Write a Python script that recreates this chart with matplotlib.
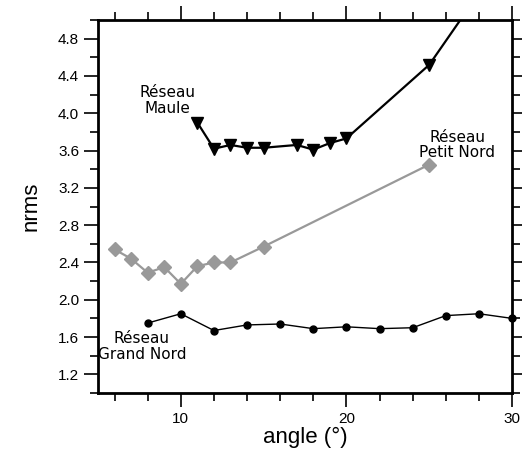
import matplotlib
matplotlib.use('Agg')
import matplotlib.pyplot as plt
from matplotlib.ticker import MultipleLocator, FixedLocator, FormatStrFormatter

# Réseau Maule
maule_x = [11, 12, 13, 14, 15, 17, 18, 19, 20, 25, 30]
maule_y = [3.90, 3.62, 3.66, 3.63, 3.63, 3.66, 3.61, 3.68, 3.73, 4.52, 5.80]

# Réseau Petit Nord
petit_x = [6, 7, 8, 9, 10, 11, 12, 13, 15, 25]
petit_y = [2.54, 2.44, 2.29, 2.35, 2.17, 2.36, 2.40, 2.40, 2.57, 3.45]

# Réseau Grand Nord
grand_x = [8, 10, 12, 14, 16, 18, 20, 22, 24, 26, 28, 30]
grand_y = [1.75, 1.85, 1.67, 1.73, 1.74, 1.69, 1.71, 1.69, 1.70, 1.83, 1.85, 1.80]

y_ticks = [1.2, 1.6, 2.0, 2.4, 2.8, 3.2, 3.6, 4.0, 4.4, 4.8]
x_ticks = [10, 20, 30]

fig = plt.figure(figsize=(5.22, 4.61), dpi=100)
ax = fig.add_axes([0.1877, 0.1475, 0.7933, 0.8091])

ax.plot(maule_x, maule_y, color='black', lw=1.6, marker='v', ms=8)
ax.plot(petit_x, petit_y, color='#999999', lw=1.6, marker='D', ms=7)
ax.plot(grand_x, grand_y, color='black', lw=1.0, marker='o', ms=5, clip_on=False)

ax.set_xlim(5, 30)
ax.set_ylim(1.0, 5.0)

ax.xaxis.set_major_locator(FixedLocator(x_ticks))
ax.xaxis.set_minor_locator(MultipleLocator(2))
ax.yaxis.set_major_locator(FixedLocator(y_ticks))
ax.yaxis.set_minor_locator(MultipleLocator(0.2))
ax.yaxis.set_major_formatter(FormatStrFormatter('%.1f'))

ax.tick_params(which='both', direction='out', top=True, right=True,
               labelsize=11, width=1.2)
ax.tick_params(which='major', length=10)
ax.tick_params(which='minor', length=6)
for lab in ax.get_xticklabels() + ax.get_yticklabels():
    lab.set_family('Liberation Sans')
for sp in ax.spines.values():
    sp.set_linewidth(2)

ax.set_xlabel('angle (°)', fontsize=16, family='Liberation Sans', labelpad=1)
ax.set_ylabel('nrms', fontsize=16, family='Liberation Sans', labelpad=12)

txt = dict(ha='center', va='center', fontsize=11, family='DejaVu Sans',
           linespacing=1.05)
ax.text(9.2, 4.14, 'Réseau\nMaule', **txt)
ax.text(26.7, 3.66, 'Réseau\nPetit Nord', **txt)
ax.text(7.65, 1.50, 'Réseau\nGrand Nord', **txt)

fig.savefig('out.png', dpi=100)
